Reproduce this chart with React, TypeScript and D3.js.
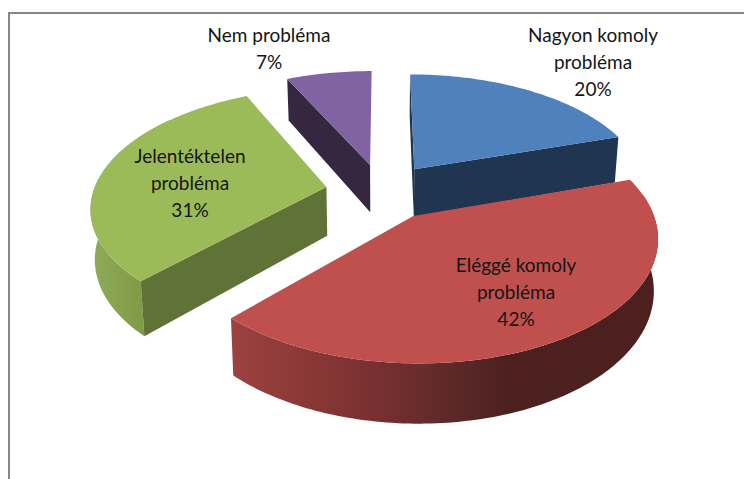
import React from "react";
import * as d3 from "d3";

const categories = ["Nagyon komoly probléma", "Eléggé komoly probléma", "Jelentéktelen probléma", "Nem probléma"];
const labelLines = [
  ["Nagyon komoly", "probléma"],
  ["Eléggé komoly", "probléma"],
  ["Jelentéktelen", "probléma"],
  ["Nem probléma"],
];
const values = [20, 42, 31, 7];
const topColors = ["#4f81bd", "#c0504d", "#9bbb59", "#8064a2"];
const cutColors = ["#1f3551", "#1f3551", "#5f7237", "#34273f"];
const visibleCuts: ("start" | "end")[][] = [["start", "end"], [], ["start"], ["start"]];

// layout (not data)
const W = 744, H = 479;
const X0 = 382, Y0 = 191.5, A = 233, B = 116, PERSP = 0.155, DEPTH = 49, EXPLODE = 0.243, BOTTOM_X = 0.985;
const labelAnchors = [
  { x: 593, y: 42 },
  { x: 516, y: 272 },
  { x: 190, y: 163 },
  { x: 269, y: 42 },
];
const LINE_H = 27;

const xScale = d3.scaleLinear().domain([0, 1]).range([X0, X0 + A]);
const yScale = d3.scaleLinear().domain([0, 1]).range([Y0, Y0 - B]);

type P = [number, number];
const project = (X: number, Y: number, bottom: boolean): P => {
  const k = 1 / (1 + PERSP * Y);
  const sx = X0 + (xScale(X) - X0) * k;
  const sy = Y0 + (yScale(Y) - Y0) * k;
  return bottom ? [X0 + (sx - X0) * BOTTOM_X, sy + DEPTH * k] : [sx, sy];
};

const pie = d3.pie<number>().sort(null).value((d) => d);
const arcs = pie(values);
const line = d3.line<P>();
const drawOrder = [3, 2, 0, 1];

export default function App() {
  const faces = arcs.map((a) => {
    const mid = (a.startAngle + a.endAngle) / 2;
    const ox = EXPLODE * Math.sin(mid);
    const oy = EXPLODE * Math.cos(mid);
    const pt = (t: number, r: number, bottom: boolean) =>
      project(ox + r * Math.sin(t), oy + r * Math.cos(t), bottom);
    const rimAngles = (s: number, e: number) => {
      const n = Math.max(2, Math.ceil((e - s) / 0.02));
      return d3.range(n + 1).map((i) => s + ((e - s) * i) / n);
    };
    const top = [pt(0, 0, false), ...rimAngles(a.startAngle, a.endAngle).map((t) => pt(t, 1, false))];
    const cut = (t: number) => [pt(0, 0, false), pt(t, 1, false), pt(t, 1, true), pt(0, 0, true)] as P[];
    const ws = Math.max(a.startAngle, (80 * Math.PI) / 180);
    const we = Math.min(a.endAngle, (310 * Math.PI) / 180);
    const wallAngles = we > ws ? rimAngles(ws, we) : [];
    const wall = wallAngles.length
      ? [...wallAngles.map((t) => pt(t, 1, false)), ...wallAngles.slice().reverse().map((t) => pt(t, 1, true))]
      : null;
    return { top, start: cut(a.startAngle), end: cut(a.endAngle), wall };
  });

  return (
    <svg
      width={W}
      height={H}
      viewBox={`0 0 ${W} ${H}`}
      style={{ position: "absolute", left: 0, top: 0, display: "block", background: "#fff" }}
    >
      <defs>
        <linearGradient id="wall1" gradientUnits="userSpaceOnUse" x1="232" x2="510" y1="0" y2="0">
          <stop offset="0" stopColor="#9c423f" />
          <stop offset="0.5" stopColor="#7a3030" />
          <stop offset="0.72" stopColor="#642b2b" />
          <stop offset="1" stopColor="#4b201f" />
        </linearGradient>
        <linearGradient id="wall2" gradientUnits="userSpaceOnUse" x1="89" x2="145" y1="0" y2="0">
          <stop offset="0" stopColor="#90ac58" />
          <stop offset="1" stopColor="#7f9a47" />
        </linearGradient>
      </defs>
      <rect x={8} y={12} width={W - 8} height={2} fill="#868686" />
      <rect x={8} y={12} width={2} height={H - 12} fill="#868686" />
      {drawOrder.map((i) => {
        const f = faces[i];
        return (
          <g key={categories[i]}>
            {f.wall && <path d={line(f.wall) + "Z"} fill={`url(#wall${i})`} />}
            {visibleCuts[i].map((c) => (
              <path key={c} d={line(f[c]) + "Z"} fill={cutColors[i]} />
            ))}
            <path d={line(f.top) + "Z"} fill={topColors[i]} />
          </g>
        );
      })}
      {arcs.map((a, i) => (
        <text
          key={categories[i]}
          textAnchor="middle"
          fontFamily="Lato, 'Open Sans', sans-serif"
          fontSize={19}
          fill="#151515"
        >
          {[...labelLines[i], `${a.value}%`].map((t, j) => (
            <tspan key={j} x={labelAnchors[i].x} y={labelAnchors[i].y + j * LINE_H}>
              {t}
            </tspan>
          ))}
        </text>
      ))}
    </svg>
  );
}
